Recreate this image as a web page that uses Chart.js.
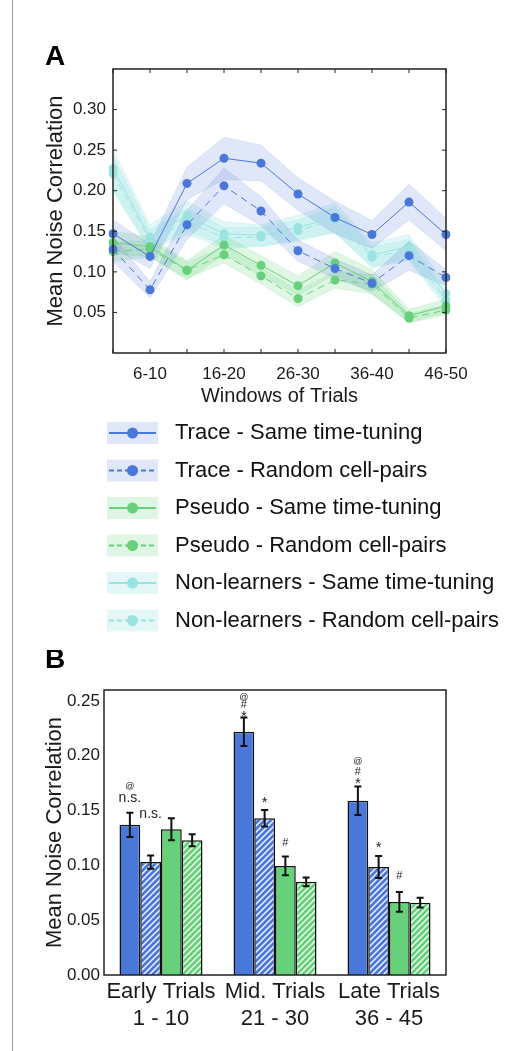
<!DOCTYPE html>
<html>
<head>
<meta charset="utf-8">
<title>Mean Noise Correlation</title>
<script src="https://cdn.jsdelivr.net/npm/chart.js@4.4.1/dist/chart.umd.min.js"></script>
<style>
  html, body { margin: 0; padding: 0; background: #fff; }
  #page { position: relative; width: 526px; height: 1051px; overflow: hidden; }
  #frame { position: absolute; left: 12px; top: 0; height: 1051px; border-left: 1px solid #9a9a9a; }
  #chartA { position: absolute; left: 0; top: 0; }
  #chartB { position: absolute; left: 0; top: 650px; }
</style>
</head>
<body>
<div id="page">
  <div id="frame"></div>
  <canvas id="chartA" width="526" height="650"></canvas>
  <canvas id="chartB" width="526" height="401"></canvas>
</div>
<script>
// ---- panel A data: noise correlation per window of trials ----
const windows = ["1-5", "6-10", "11-15", "16-20", "21-25", "26-30", "31-35", "36-40", "41-45", "46-50"];
const yTicksA = [0.05, 0.10, 0.15, 0.20, 0.25, 0.30];

const traceSame      = [0.147, 0.119, 0.209, 0.240, 0.234, 0.196, 0.167, 0.146, 0.186, 0.146];
const traceSameSem   = [0.017, 0.015, 0.020, 0.026, 0.022, 0.020, 0.020, 0.017, 0.022, 0.020];
const traceRandom    = [0.128, 0.078, 0.158, 0.206, 0.175, 0.126, 0.104, 0.086, 0.120, 0.093];
const traceRandomSem = [0.015, 0.010, 0.018, 0.022, 0.018, 0.013, 0.012, 0.010, 0.018, 0.010];
const pseudoSame      = [0.136, 0.131, 0.102, 0.133, 0.108, 0.083, 0.111, 0.088, 0.046, 0.058];
const pseudoSameSem   = [0.014, 0.012, 0.012, 0.012, 0.012, 0.012, 0.014, 0.015, 0.008, 0.008];
const pseudoRandom    = [0.125, 0.128, 0.102, 0.121, 0.095, 0.067, 0.090, 0.085, 0.043, 0.053];
const pseudoRandomSem = [0.012, 0.010, 0.010, 0.010, 0.010, 0.010, 0.010, 0.012, 0.006, 0.006];
const nlSame      = [0.227, 0.143, 0.169, 0.147, 0.145, 0.155, 0.167, 0.121, 0.131, 0.073];
const nlSameSem   = [0.025, 0.015, 0.018, 0.015, 0.013, 0.015, 0.018, 0.015, 0.015, 0.012];
const nlRandom    = [0.221, 0.139, 0.162, 0.142, 0.143, 0.151, 0.164, 0.118, 0.127, 0.065];
const nlRandomSem = [0.022, 0.013, 0.016, 0.013, 0.012, 0.013, 0.016, 0.013, 0.013, 0.010];

// ---- panel B data: averaged trial blocks ----
const blocks = [["Early Trials", "1 - 10"], ["Mid. Trials", "21 - 30"], ["Late Trials", "36 - 45"]];
const yTicksB = [0, 0.05, 0.10, 0.15, 0.20, 0.25];
const barTraceSame       = [0.137, 0.222, 0.159];
const barTraceSameErr    = [0.011, 0.013, 0.013];
const barTraceRandom     = [0.103, 0.143, 0.0985];
const barTraceRandomErr  = [0.006, 0.0075, 0.010];
const barPseudoSame      = [0.133, 0.0995, 0.0667];
const barPseudoSameErr   = [0.010, 0.0085, 0.009];
const barPseudoRandom    = [0.123, 0.085, 0.066];
const barPseudoRandomErr = [0.0055, 0.004, 0.0045];

// significance marks: dataset, block, text, height (data units)
const sigMarks = [
  [0, 0, "n.s.", 0.161], [0, 0, "@", 0.1715],
  [1, 0, "n.s.", 0.1465],
  [0, 1, "*", 0.238], [0, 1, "#", 0.2465], [0, 1, "@", 0.2535],
  [1, 1, "*", 0.160],
  [2, 1, "#", 0.120],
  [0, 2, "*", 0.177], [0, 2, "#", 0.1855], [0, 2, "@", 0.1945],
  [1, 2, "*", 0.119],
  [2, 2, "#", 0.090]
];

const BLUE = "#4a78d8", GREEN = "#66d17a", CYAN = "#9be3e1";
const BLUE_BAND = "rgba(74,110,216,0.17)", GREEN_BAND = "rgba(102,209,122,0.2)", CYAN_BAND = "rgba(150,225,225,0.27)";
const FONT = "'Liberation Sans', Arial, sans-serif";

Chart.defaults.font.family = FONT;
Chart.defaults.color = "#1a1a1a";
Chart.defaults.animation = false;

// line + shaded sem band (upper edge, lower edge filled to upper)
function series(label, values, sem, color, band, dashed, order, bandOrder) {
  const upper = values.map((v, i) => v + sem[i]);
  const lower = values.map((v, i) => v - sem[i]);
  return [
    { data: upper, borderColor: band, borderWidth: 0.8, pointRadius: 0, fill: false, order: bandOrder },
    { data: lower, borderColor: band, borderWidth: 0.8, pointRadius: 0, fill: "-1", backgroundColor: band, order: bandOrder },
    {
      label: label, legendText: label, bandColor: band, dashed: dashed,
      data: values, borderColor: color, backgroundColor: color, borderWidth: 1,
      borderDash: dashed ? [7, 5] : [], pointRadius: 4.5, pointBorderWidth: 0,
      pointBackgroundColor: color, fill: false, order: order
    }
  ];
}

const boxFrame = {
  id: "boxFrame",
  afterDatasetsDraw(chart, args, opts) {
    const { ctx, chartArea: a, scales } = chart;
    ctx.save();
    ctx.strokeStyle = "#222";
    ctx.lineWidth = 1.5;
    ctx.strokeRect(a.left, a.top, a.right - a.left, a.bottom - a.top);
    if (opts.ticks) {
      ctx.lineWidth = 1;
      ctx.beginPath();
      scales.x.ticks.forEach((t, i) => {
        const x = scales.x.getPixelForTick(i);
        ctx.moveTo(x, a.bottom); ctx.lineTo(x, a.bottom - 4);
        ctx.moveTo(x, a.top); ctx.lineTo(x, a.top + 4);
      });
      scales.y.ticks.forEach(t => {
        const y = scales.y.getPixelForValue(t.value);
        ctx.moveTo(a.left, y); ctx.lineTo(a.left + 4, y);
        ctx.moveTo(a.right, y); ctx.lineTo(a.right - 4, y);
      });
      ctx.stroke();
    }
    ctx.restore();
  }
};

const panelLetter = {
  id: "panelLetter",
  afterDraw(chart, args, opts) {
    const ctx = chart.ctx;
    ctx.save();
    ctx.fillStyle = "#000";
    ctx.font = "bold 28px " + FONT;
    ctx.textBaseline = "middle";
    ctx.fillText(opts.text, opts.x, opts.y);
    ctx.restore();
  }
};

// legend: shaded box with line and marker, one row per series
const bandLegend = {
  id: "bandLegend",
  afterDraw(chart, args, opts) {
    const ctx = chart.ctx;
    const items = chart.data.datasets.filter(d => d.legendText);
    ctx.save();
    items.forEach((d, i) => {
      const y = opts.y + i * opts.step;
      ctx.fillStyle = d.bandColor;
      ctx.fillRect(opts.x, y - 11, opts.w, 22);
      ctx.strokeStyle = d.borderColor;
      ctx.lineWidth = 2;
      ctx.setLineDash(d.dashed ? [5, 3] : []);
      ctx.beginPath();
      ctx.moveTo(opts.x + 2, y); ctx.lineTo(opts.x + opts.w - 2, y);
      ctx.stroke();
      ctx.setLineDash([]);
      ctx.fillStyle = d.borderColor;
      ctx.beginPath();
      ctx.arc(opts.x + opts.w / 2, y, 5.5, 0, Math.PI * 2);
      ctx.fill();
      ctx.fillStyle = "#111";
      ctx.font = "22px " + FONT;
      ctx.textBaseline = "middle";
      ctx.fillText(d.legendText, opts.textX, y);
    });
    ctx.restore();
  }
};

const datasetsA = [].concat(
  series("Trace - Same time-tuning", traceSame, traceSameSem, BLUE, BLUE_BAND, false, 0, 20),
  series("Trace - Random cell-pairs", traceRandom, traceRandomSem, BLUE, BLUE_BAND, true, 1, 20),
  series("Pseudo - Same time-tuning", pseudoSame, pseudoSameSem, GREEN, GREEN_BAND, false, 2, 21),
  series("Pseudo - Random cell-pairs", pseudoRandom, pseudoRandomSem, GREEN, GREEN_BAND, true, 3, 21),
  series("Non-learners - Same time-tuning", nlSame, nlSameSem, CYAN, CYAN_BAND, false, 4, 22),
  series("Non-learners - Random cell-pairs", nlRandom, nlRandomSem, CYAN, CYAN_BAND, true, 5, 22)
);

new Chart(document.getElementById("chartA"), {
  type: "line",
  data: { labels: windows, datasets: datasetsA },
  options: {
    responsive: false,
    layout: { padding: { left: 0, right: 80, top: 69, bottom: 237 } },
    plugins: {
      legend: { display: false },
      tooltip: { enabled: false },
      boxFrame: { ticks: true },
      panelLetter: { text: "A", x: 45, y: 57 },
      bandLegend: { x: 107, w: 51, y: 433, step: 37.5, textX: 175 }
    },
    scales: {
      x: {
        offset: false,
        grid: { display: false, drawTicks: false },
        border: { display: false },
        ticks: { autoSkip: false, maxRotation: 0, padding: 11, font: { size: 17 },
                 callback: (v, i) => i % 2 === 1 ? windows[i] : "" },
        title: { display: true, text: "Windows of Trials", font: { size: 20 }, padding: { top: 0, bottom: 5 } },
        afterFit: s => { s.height = 60; }
      },
      y: {
        min: 0, max: 0.35,
        afterBuildTicks: s => { s.ticks = yTicksA.map(v => ({ value: v })); },
        grid: { display: false, drawTicks: false },
        border: { display: false },
        ticks: { padding: 7, font: { size: 17 }, callback: v => v.toFixed(2) },
        title: { display: true, text: "Mean Noise Correlation", font: { size: 22 }, padding: { top: 43, bottom: 0 } },
        afterFit: s => { s.width = 113; }
      }
    }
  },
  plugins: [boxFrame, panelLetter, bandLegend]
});

// ---- panel B ----
function hatch(color) {
  const c = document.createElement("canvas");
  c.width = 6; c.height = 6;
  const g = c.getContext("2d");
  g.fillStyle = color;
  g.fillRect(0, 0, 6, 6);
  g.strokeStyle = "rgba(255,255,255,0.92)";
  g.lineWidth = 1.5;
  g.beginPath();
  g.moveTo(0, 6); g.lineTo(6, 0);
  g.moveTo(-1, 1); g.lineTo(1, -1);
  g.moveTo(5, 7); g.lineTo(7, 5);
  g.stroke();
  return g.createPattern(c, "repeat");
}

const errorBars = {
  id: "errorBars",
  afterDatasetsDraw(chart) {
    const { ctx, scales } = chart;
    ctx.save();
    ctx.strokeStyle = "#111";
    ctx.lineWidth = 2;
    chart.data.datasets.forEach((d, di) => {
      chart.getDatasetMeta(di).data.forEach((bar, i) => {
        const top = scales.y.getPixelForValue(d.data[i] + d.errors[i]);
        const bot = scales.y.getPixelForValue(d.data[i] - d.errors[i]);
        ctx.beginPath();
        ctx.moveTo(bar.x, top); ctx.lineTo(bar.x, bot);
        ctx.moveTo(bar.x - 3.5, top); ctx.lineTo(bar.x + 3.5, top);
        ctx.moveTo(bar.x - 3.5, bot); ctx.lineTo(bar.x + 3.5, bot);
        ctx.stroke();
      });
    });
    ctx.restore();
  }
};

const sigLabels = {
  id: "sigLabels",
  afterDatasetsDraw(chart) {
    const { ctx, scales } = chart;
    ctx.save();
    ctx.fillStyle = "#222";
    ctx.textAlign = "center";
    ctx.textBaseline = "middle";
    sigMarks.forEach(([di, gi, text, at]) => {
      const bar = chart.getDatasetMeta(di).data[gi];
      const size = text === "n.s." ? 14 : text === "@" ? 9 : text === "*" ? 15 : 11;
      ctx.font = size + "px " + FONT;
      const shift = text === "*" ? size * 0.2 : 0;
      ctx.fillText(text, bar.x, scales.y.getPixelForValue(at) + shift);
    });
    ctx.restore();
  }
};

function barSet(label, values, errors, fill) {
  return { label: label, data: values, errors: errors, backgroundColor: fill,
           borderColor: "#111", borderWidth: 1.5 };
}

new Chart(document.getElementById("chartB"), {
  type: "bar",
  data: {
    labels: blocks,
    datasets: [
      barSet("Trace - Same time-tuning", barTraceSame, barTraceSameErr, BLUE),
      barSet("Trace - Random cell-pairs", barTraceRandom, barTraceRandomErr, hatch(BLUE)),
      barSet("Pseudo - Same time-tuning", barPseudoSame, barPseudoSameErr, GREEN),
      barSet("Pseudo - Random cell-pairs", barPseudoRandom, barPseudoRandomErr, hatch(GREEN))
    ]
  },
  options: {
    responsive: false,
    categoryPercentage: 0.728,
    barPercentage: 1,
    layout: { padding: { left: 0, right: 80, top: 40, bottom: 0 } },
    plugins: {
      legend: { display: false },
      tooltip: { enabled: false },
      boxFrame: { ticks: false },
      panelLetter: { text: "B", x: 45, y: 10 }
    },
    scales: {
      x: {
        grid: { display: false, drawTicks: false },
        border: { display: false },
        ticks: { padding: 4, maxRotation: 0, autoSkip: false, font: { size: 22 } },
        afterFit: s => { s.height = 76; }
      },
      y: {
        min: 0, max: 0.26,
        afterBuildTicks: s => { s.ticks = yTicksB.map(v => ({ value: v })); },
        grid: { display: false, drawTicks: false },
        border: { display: false },
        ticks: { padding: 4, font: { size: 17 }, callback: v => v.toFixed(2) },
        title: { display: true, text: "Mean Noise Correlation", font: { size: 22 }, padding: { top: 42, bottom: 0 } },
        afterFit: s => { s.width = 104; }
      }
    }
  },
  plugins: [boxFrame, panelLetter, errorBars, sigLabels]
});
</script>
</body>
</html>
